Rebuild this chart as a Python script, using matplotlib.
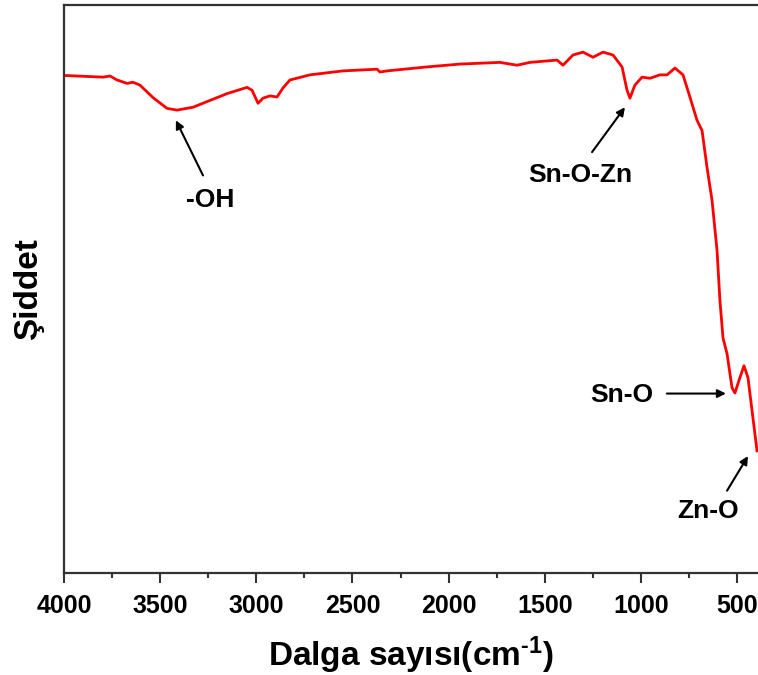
import matplotlib as mpl
import matplotlib.pyplot as plt
from matplotlib.ticker import MultipleLocator

mpl.rc("font", family="Liberation Sans", weight="bold")
mpl.rc("axes", labelweight="bold")
mpl.rc("mathtext", fontset="custom", rm="Liberation Sans:bold",
       bf="Liberation Sans:bold", default="bf")

# FTIR spectrum (wavenumber in cm-1, intensity in a.u.)
wavenumber = [4000, 3797, 3761, 3724, 3672, 3641, 3605, 3537, 3464, 3412,
              3329, 3241, 3152, 3048, 3022, 2991, 2965, 2929, 2892, 2861,
              2825, 2721, 2549, 2372, 2357, 2320, 2112, 1941, 1733, 1644,
              1577, 1436, 1405, 1353, 1301, 1249, 1197, 1145, 1098, 1072,
              1057, 1031, 994, 953, 901, 864, 823, 781, 745, 708,
              682, 656, 630, 604, 589, 573, 552, 526, 511, 485,
              464, 443, 422, 396]
intensity = [87.6, 87.3, 87.5, 86.8, 86.2, 86.4, 85.9, 83.7, 81.8, 81.5,
             82.0, 83.2, 84.4, 85.5, 85.0, 82.7, 83.6, 84.0, 83.8, 85.4,
             86.8, 87.7, 88.4, 88.7, 88.2, 88.4, 89.1, 89.6, 89.9, 89.4,
             89.9, 90.3, 89.4, 91.2, 91.7, 90.8, 91.7, 91.2, 89.1, 85.0,
             83.6, 85.9, 87.3, 87.1, 87.7, 87.7, 88.9, 87.7, 83.8, 79.7,
             77.9, 71.4, 65.6, 56.8, 48.0, 41.4, 38.6, 32.6, 31.7, 34.4,
             36.5, 34.4, 28.6, 21.5]

# band labels: (text, arrow head, arrow tail, text position)
bands = [
    ("-OH", (3418, 79.7), (3277, 70.0), (3241, 65.6)),
    ("Sn-O-Zn", (1083, 82.0), (1254, 74.1), (1317, 70.0)),
    ("Zn-O", (443, 20.6), (552, 14.5), (651, 10.9)),
]

fig = plt.figure(figsize=(7.58, 6.75), dpi=100)
ax = fig.add_axes([0.0844, 0.151, 0.9156, 0.8416])

ax.plot(wavenumber, intensity, color="#ff0000", lw=2)
ax.set_xlim(4000, 391)
ax.set_ylim(0, 100)

for label, head, tail, pos in bands:
    ax.annotate("", xy=head, xytext=tail,
                arrowprops=dict(arrowstyle="-|>", color="black", lw=1.5,
                                mutation_scale=12, shrinkA=0, shrinkB=0))
    ax.text(*pos, label, fontsize=19, ha="center", va="center")

# Sn-O label sits to the left of a horizontal arrow
ax.annotate("", xy=(558, 31.6), xytext=(865, 31.6),
            arrowprops=dict(arrowstyle="-|>", color="black", lw=1.5,
                            mutation_scale=12, shrinkA=0, shrinkB=0))
ax.text(1098, 31.4, "Sn-O", fontsize=19, ha="center", va="center")

ax.xaxis.set_major_locator(MultipleLocator(500))
ax.xaxis.set_minor_locator(MultipleLocator(250))
ax.tick_params(axis="x", which="major", direction="out", length=7, width=1.5,
               labelsize=18, pad=8, color="#333333")
ax.tick_params(axis="x", which="minor", direction="out", length=3.5, width=1.5,
               color="#333333")
ax.tick_params(axis="y", left=False, labelleft=False)

for side in ["left", "bottom", "top"]:
    ax.spines[side].set_linewidth(1.6)
    ax.spines[side].set_color("#333333")
ax.spines["right"].set_visible(False)

ax.set_xlabel(r"Dalga sayısı(cm$^{\text{-1}}$)", fontsize=24, labelpad=12)
ax.set_ylabel("Şiddet", fontsize=24, labelpad=14)

fig.savefig("out.png", dpi=100)
